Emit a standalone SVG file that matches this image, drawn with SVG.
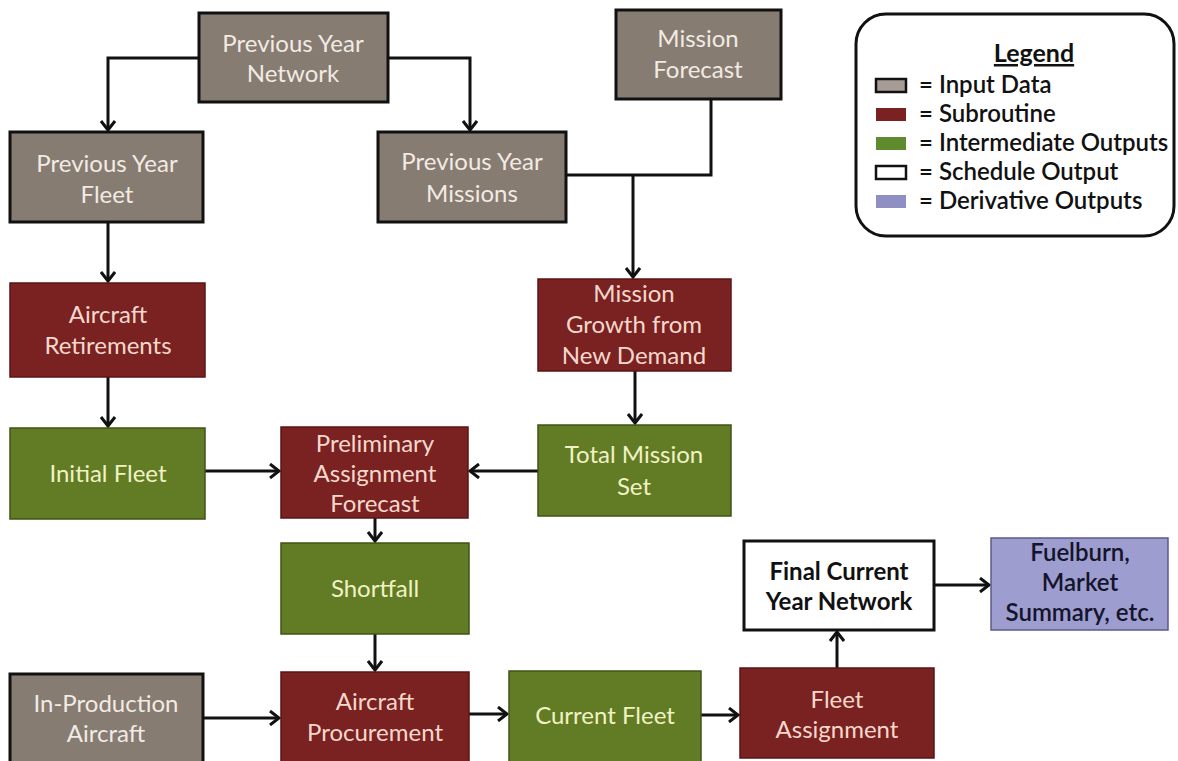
<svg xmlns="http://www.w3.org/2000/svg" width="1178" height="761" viewBox="0 0 1178 761">
<defs>
<marker id="arr" markerUnits="userSpaceOnUse" markerWidth="16" markerHeight="16" viewBox="0 0 16 16" refX="13" refY="8" orient="auto">
<path d="M4,1 L13,8 L4,15" fill="none" stroke="#111" stroke-width="3"/>
</marker>
<style>
.in{fill:#877c72;stroke:#111;stroke-width:3}
.sub{fill:#7a2222;stroke:#5a1515;stroke-width:1.5}
.mid{fill:#617c24;stroke:#3f5416;stroke-width:1.5}
.out{fill:#fff;stroke:#111;stroke-width:3}
.der{fill:#9d9dcf;stroke:#5b5b8a;stroke-width:1.5}
text{font-family:Lato,"Open Sans","Liberation Sans",sans-serif;font-size:24px;text-anchor:middle}
.ti{fill:#f1ebe4}
.ts{fill:#f6d8cc}
.tm{fill:#f1f2c4}
.to{fill:#111;font-weight:bold}
.td{fill:#14142a;font-weight:600}
.c{fill:none;stroke:#111;stroke-width:3}
.lg{text-anchor:start;fill:#111;font-weight:600;font-size:24px}
</style>
</defs>
<g id="connectors">
<path class="c" d="M199,58 H108 V130" marker-end="url(#arr)"/>
<path class="c" d="M388,58 H470 V130" marker-end="url(#arr)"/>
<path class="c" d="M108,222 V281" marker-end="url(#arr)"/>
<path class="c" d="M108,377 V426" marker-end="url(#arr)"/>
<path class="c" d="M566,175 H711 V99"/>
<path class="c" d="M633,175 V277" marker-end="url(#arr)"/>
<path class="c" d="M635,371 V423" marker-end="url(#arr)"/>
<path class="c" d="M205,471 H279" marker-end="url(#arr)"/>
<path class="c" d="M538,471 H470" marker-end="url(#arr)"/>
<path class="c" d="M375,518 V541" marker-end="url(#arr)"/>
<path class="c" d="M375,634 V670" marker-end="url(#arr)"/>
<path class="c" d="M203,718 H279" marker-end="url(#arr)"/>
<path class="c" d="M469,714 H507" marker-end="url(#arr)"/>
<path class="c" d="M701,715 H738" marker-end="url(#arr)"/>
<path class="c" d="M837,668 V632" marker-end="url(#arr)"/>
<path class="c" d="M934,585 H989" marker-end="url(#arr)"/>
</g>
<g id="prev-year-network"><rect class="in" x="199" y="13" width="189" height="89"/><text class="ti" x="293" y="52">Previous Year</text><text class="ti" x="293" y="82">Network</text></g>
<g id="mission-forecast"><rect class="in" x="616" y="10" width="165" height="89"/><text class="ti" x="698" y="47">Mission</text><text class="ti" x="698" y="78">Forecast</text></g>
<g id="prev-year-fleet"><rect class="in" x="10" y="132" width="193" height="90"/><text class="ti" x="107" y="172">Previous Year</text><text class="ti" x="107" y="203">Fleet</text></g>
<g id="prev-year-missions"><rect class="in" x="378" y="132" width="188" height="90"/><text class="ti" x="472" y="170">Previous Year</text><text class="ti" x="472" y="202">Missions</text></g>
<g id="aircraft-retirements"><rect class="sub" x="10" y="283" width="195" height="94"/><text class="ts" x="108" y="323">Aircraft</text><text class="ts" x="108" y="354">Retirements</text></g>
<g id="mission-growth"><rect class="sub" x="538" y="279" width="193" height="92"/><text class="ts" x="634" y="302">Mission</text><text class="ts" x="634" y="333">Growth from</text><text class="ts" x="634" y="364">New Demand</text></g>
<g id="initial-fleet"><rect class="mid" x="10" y="428" width="195" height="91"/><text class="tm" x="108" y="482">Initial Fleet</text></g>
<g id="preliminary"><rect class="sub" x="281" y="427" width="187" height="91"/><text class="ts" x="375" y="452">Preliminary</text><text class="ts" x="375" y="482">Assignment</text><text class="ts" x="375" y="512">Forecast</text></g>
<g id="total-mission-set"><rect class="mid" x="538" y="425" width="193" height="91"/><text class="tm" x="634" y="463">Total Mission</text><text class="tm" x="634" y="495">Set</text></g>
<g id="shortfall"><rect class="mid" x="281" y="543" width="188" height="91"/><text class="tm" x="375" y="597">Shortfall</text></g>
<g id="in-production"><rect class="in" x="10" y="674" width="193" height="90"/><text class="ti" x="106" y="712">In-Production</text><text class="ti" x="106" y="742">Aircraft</text></g>
<g id="aircraft-procurement"><rect class="sub" x="281" y="672" width="188" height="92"/><text class="ts" x="375" y="710">Aircraft</text><text class="ts" x="375" y="741">Procurement</text></g>
<g id="current-fleet"><rect class="mid" x="509" y="671" width="192" height="93"/><text class="tm" x="605" y="724">Current Fleet</text></g>
<g id="fleet-assignment"><rect class="sub" x="740" y="668" width="194" height="90"/><text class="ts" x="837" y="708">Fleet</text><text class="ts" x="837" y="738">Assignment</text></g>
<g id="final-network"><rect class="out" x="744" y="541" width="190" height="89"/><text class="to" x="839" y="580">Final Current</text><text class="to" x="839" y="610">Year Network</text></g>
<g id="fuelburn"><rect class="der" x="991" y="538" width="177" height="92"/><text class="td" x="1080" y="561">Fuelburn,</text><text class="td" x="1080" y="591">Market</text><text class="td" x="1080" y="621">Summary, etc.</text></g>
<g id="legend">
<rect x="856" y="14" width="318" height="222" rx="30" ry="30" fill="#fff" stroke="#111" stroke-width="3"/>
<text x="1034" y="62" style="font-weight:bold;font-size:25px;fill:#111;text-decoration:underline">Legend</text>
<rect x="876" y="79" width="30" height="13" class="in" style="stroke-width:2.5;fill:#a89c96"/>
<rect x="876" y="108" width="30" height="13" style="fill:#7a2222"/>
<rect x="876" y="137" width="30" height="13" style="fill:#5f8a2e"/>
<rect x="876" y="166" width="30" height="13" class="out" style="stroke-width:2.5"/>
<rect x="876" y="195" width="30" height="13" style="fill:#8f8fc4"/>
<text class="lg" x="919" y="93">= Input Data</text>
<text class="lg" x="919" y="122">= Subroutine</text>
<text class="lg" x="919" y="151">= Intermediate Outputs</text>
<text class="lg" x="919" y="180">= Schedule Output</text>
<text class="lg" x="919" y="209">= Derivative Outputs</text>
</g>
</svg>
